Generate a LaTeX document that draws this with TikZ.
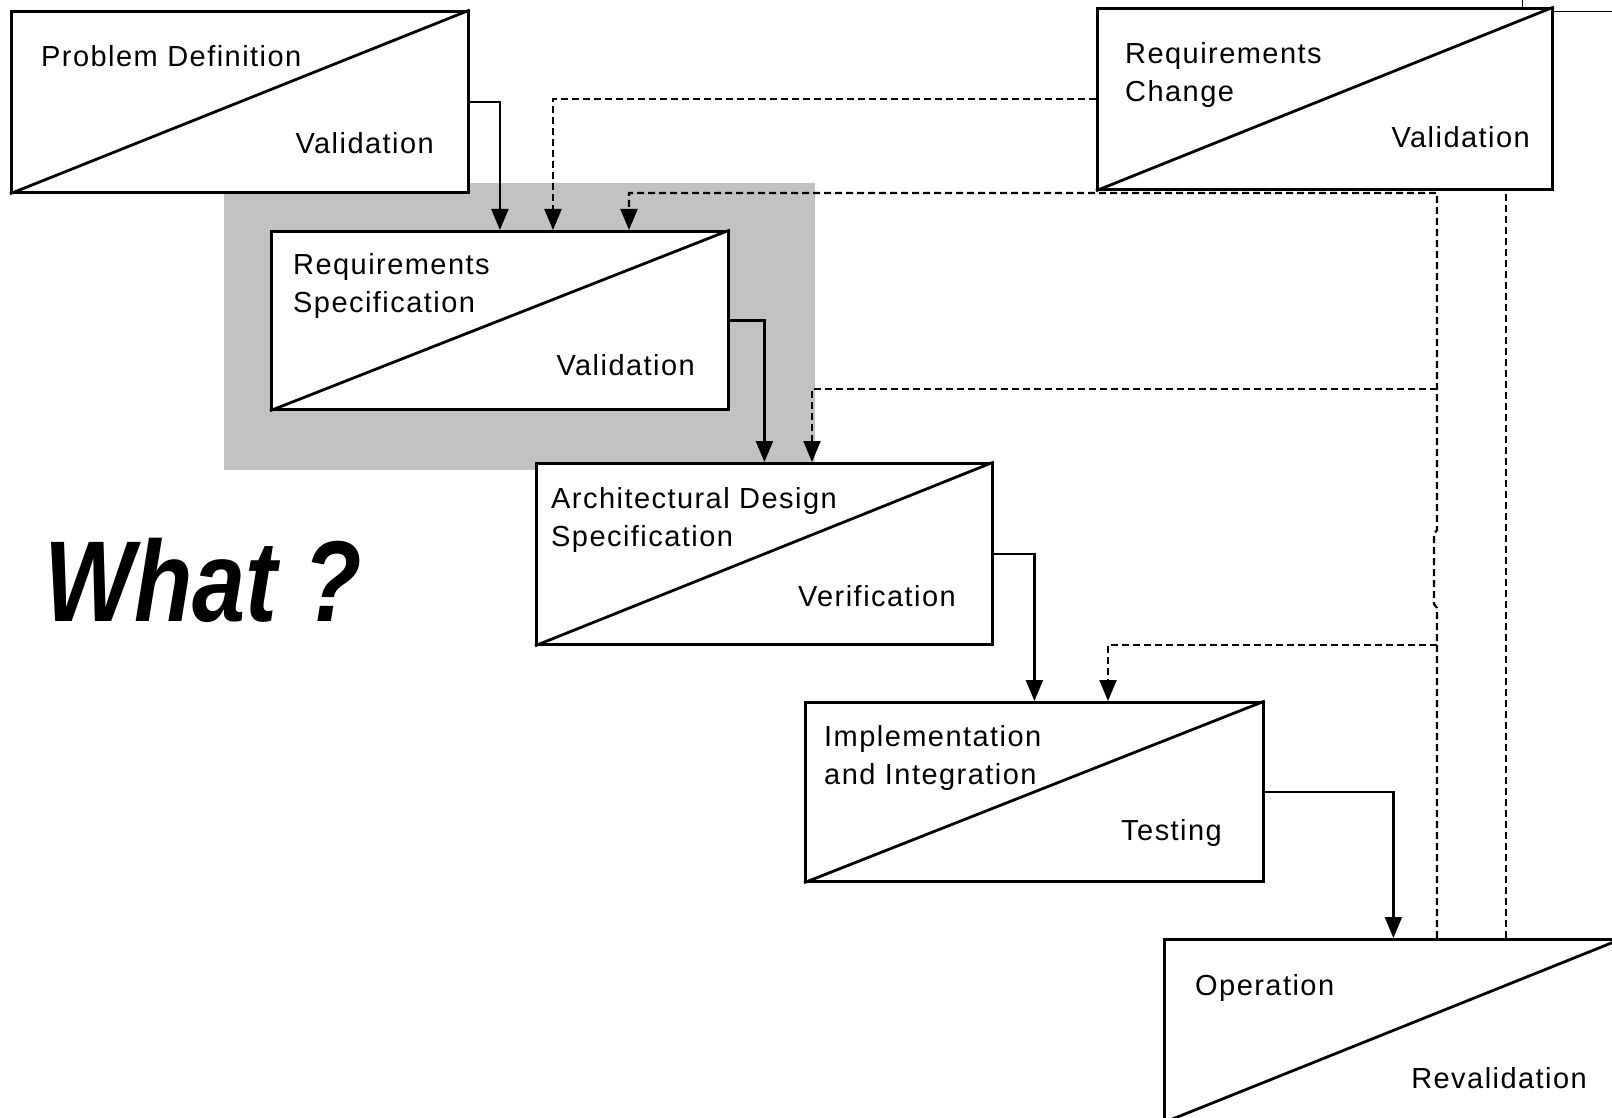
\documentclass[tikz,border=0pt]{standalone}
\usepackage{fontspec}
\usetikzlibrary{arrows.meta,calc}
\newfontfamily\lbl{Liberation Sans}[LetterSpace=5]
\newfontfamily\whatf{Liberation Sans}[FakeStretch=0.83]
\begin{document}
\begin{tikzpicture}[x=1pt,y=-1pt,
  phase/.style={draw, line width=2.8pt, fill=white, anchor=north west, inner sep=0pt,
                minimum width=456pt, minimum height=180pt},
  diag/.style={line width=2.8pt},
  lbl/.style={font=\lbl\fontsize{29}{38}\selectfont, inner sep=0pt, align=left},
  conn/.style={line width=2.2pt, -{Triangle[length=21pt,width=17pt]}},
  dconn/.style={conn, dash pattern=on 7pt off 4pt},
  dline/.style={line width=2.2pt, dash pattern=on 7pt off 4pt}]
\useasboundingbox (0,0) rectangle (1612,1118);
\begin{scope}
\clip (0,0) rectangle (1612,1118);
% shaded focus area
\fill[black!24] (224,183) rectangle (815,470);
% phases
\node[phase, minimum width=457pt, minimum height=181pt] (pd) at (10,10) {};
\draw[diag] (pd.south west) -- (pd.north east);
\node[phase, minimum width=455pt, minimum height=181pt] (rc) at (1096,7) {};
\draw[diag] (rc.south west) -- (rc.north east);
\node[phase, minimum width=457pt, minimum height=178pt] (rs) at (270,230) {};
\draw[diag] (rs.south west) -- (rs.north east);
\node[phase, minimum width=456pt, minimum height=181pt] (ad) at (535,462) {};
\draw[diag] (ad.south west) -- (ad.north east);
\node[phase, minimum width=458pt, minimum height=179pt] (ii) at (804,701) {};
\draw[diag] (ii.south west) -- (ii.north east);
\node[phase, minimum width=458pt, minimum height=182pt] (op) at (1163,938) {};
\draw[diag] (op.south west) -- (op.north east);
% thin off-picture lines at the top right
\coordinate (tr1) at (1522,0);
\coordinate (tr2) at (1522,7);
\coordinate (tr3) at (1612,11);
\draw[line width=0.9pt] (tr1) -- (tr2);
\draw[line width=0.9pt] (rc.north east |- tr3) -- (tr3);
% labels
\node[lbl, anchor=base west] (pdt) at (41,67) {Problem Definition};
\node[lbl, anchor=base east] (pdv) at (434,154) {Validation};
\node[lbl, anchor=north west] (rct) at (1125,42) {Requirements\\Change};
\node[lbl, anchor=base east] (rcv) at (1530,148) {Validation};
\node[lbl, anchor=north west] (rst) at (293,253) {Requirements\\Specification};
\node[lbl, anchor=base east] (rsv) at (695,375) {Validation};
\node[lbl, anchor=north west] (adt) at (551,487) {Architectural Design\\Specification};
\node[lbl, anchor=base east] (adv) at (956,606) {Verification};
\node[lbl, anchor=north west] (iit) at (824,725) {Implementation\\and Integration};
\node[lbl, anchor=base east] (iiv) at (1222,840) {Testing};
\node[lbl, anchor=base west] (opt) at (1195,995) {Operation};
\node[lbl, anchor=base east] (opv) at (1587,1088) {Revalidation};
\node[font=\whatf\bfseries\itshape\fontsize{115}{115}\selectfont, inner sep=0pt, anchor=base west] (what) at (44,621) {What ?};
% solid flow
\draw[conn] (pd.east) -| (rs.north);
\draw[conn] (rs.east) -| (ad.north);
\draw[conn] (ad.east) -| (ii.north);
\draw[conn] (ii.east) -| (op.north);
% dashed feedback
\coordinate (rsin2) at (553,230);
\coordinate (rsin3) at (629,230);
\coordinate (adin2) at (812,462);
\coordinate (iiin2) at (1108,701);
\coordinate (fbbot) at (1437,938);
\coordinate (fbj2) at (1437,645);
\coordinate (fbk1) at (1437,530);
\coordinate (fbk2) at (1434,534);
\coordinate (fbk3) at (1434,604);
\coordinate (fbk4) at (1437,608);
\coordinate (fbj1) at (1437,389);
\coordinate (fbtop) at (1437,193);
\coordinate (rvbot) at (1506,938);
\coordinate (rvtop) at (1506,188);
\draw[dconn] (rc.west) -| (rsin2);
\draw[dconn] (fbbot) -- (fbj2) -- (fbk4) -- (fbk3) -- (fbk2) -- (fbk1) -- (fbj1) -- (fbtop) -| (rsin3);
\draw[dconn] (fbj1) -| (adin2);
\draw[dconn] (fbj2) -| (iiin2);
\draw[dline] (rvbot) -- (rvtop);
\end{scope}
\end{tikzpicture}
\end{document}
